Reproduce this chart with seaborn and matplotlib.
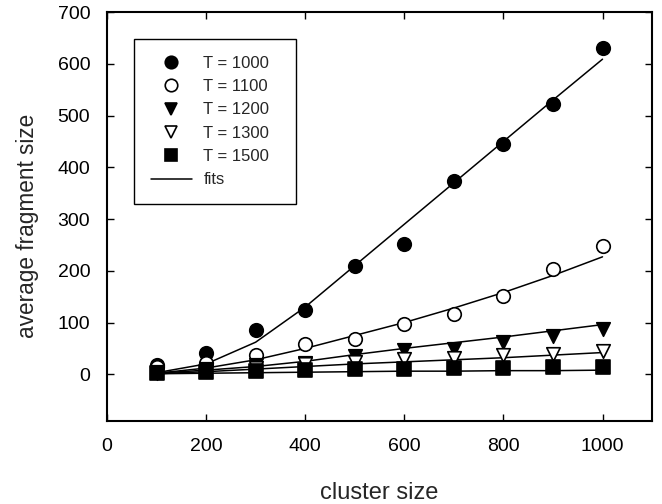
import matplotlib
matplotlib.use("Agg")
import matplotlib.pyplot as plt
from matplotlib.lines import Line2D
import seaborn as sns
import pandas as pd

cluster_size = [100, 200, 300, 400, 500, 600, 700, 800, 900, 1000]

t_labels = ["T = 1000", "T = 1100", "T = 1200", "T = 1300", "T = 1500"]

data_1000 = [18, 42, 86, 125, 210, 252, 374, 445, 523, 630]
data_1100 = [14, 21, 38, 59, 69, 98, 116, 151, 203, 248]
data_1200 = [4, 10, 17, 22, 35, 47, 48, 63, 74, 88]
data_1300 = [3, 6, 12, 19, 24, 30, 32, 37, 40, 45]
data_1500 = [2, 5, 6, 9, 10, 11, 12, 13, 14, 15]

fit_1000 = [3, 20, 62, 130, 210, 290, 370, 450, 530, 609]
fit_1100 = [2, 12, 28, 50, 75, 100, 128, 158, 191, 227]
fit_1200 = [2, 8, 15, 25, 38, 50, 61, 72, 84, 96]
fit_1300 = [1, 5, 10, 15, 20, 24, 28, 32, 37, 42]
fit_1500 = [1, 2, 3, 4, 5, 6, 6, 7, 7, 8]

x_ticks = [0, 200, 400, 600, 800, 1000]
y_ticks = [0, 100, 200, 300, 400, 500, 600, 700]

series = [data_1000, data_1100, data_1200, data_1300, data_1500]
fits = [fit_1000, fit_1100, fit_1200, fit_1300, fit_1500]
markers = ["o", "o", "v", "v", "s"]
filled = [True, False, True, False, True]

sns.set_theme(style="ticks")
plt.rcParams["font.family"] = ["Liberation Sans", "DejaVu Sans"]

fig = plt.figure(figsize=(6.62, 5.04), dpi=100)
ax = fig.add_axes([0.1616, 0.165, 0.8234, 0.811])

for vals, fv in zip(series, fits):
    df = pd.DataFrame({"x": cluster_size, "y": fv})
    sns.lineplot(data=df, x="x", y="y", color="black", linewidth=1.1, ax=ax,
                 legend=False, zorder=2)

for vals, m, f in zip(series, markers, filled):
    df = pd.DataFrame({"x": cluster_size, "y": vals})
    sns.scatterplot(data=df, x="x", y="y", marker=m, s=95,
                    color="black" if f else "white", edgecolor="black",
                    linewidth=1.2, ax=ax, legend=False, zorder=3)

ax.set_xlim(0, 1100)
ax.set_ylim(-90, 700)
ax.set_xticks(x_ticks)
ax.set_yticks(y_ticks)
ax.tick_params(axis="both", direction="in", length=5, width=1.0,
               labelsize=14, colors="black", top=True, right=True)
ax.tick_params(axis="x", pad=12)
ax.tick_params(axis="y", pad=12)
for sp in ax.spines.values():
    sp.set_linewidth(1.5)
    sp.set_color("black")
    sp.set_visible(True)

ax.set_xlabel("cluster size", fontsize=17, labelpad=20)
ax.set_ylabel("average fragment size", fontsize=16.3)
ax.yaxis.set_label_coords(-0.124, 0.478)

handles = []
for lab, m, f in zip(t_labels, markers, filled):
    handles.append(Line2D([], [], linestyle="none", marker=m, markersize=9,
                          markerfacecolor="black" if f else "white",
                          markeredgecolor="black", markeredgewidth=1.2,
                          label=lab))
handles.append(Line2D([], [], color="black", linewidth=1.1, label="fits"))

leg = ax.legend(handles=handles, loc="upper left",
                bbox_to_anchor=(0.0495, 0.5, 0.297, 0.434), mode="expand",
                borderaxespad=0,
                fontsize=12, frameon=True, fancybox=False,
                edgecolor="black", handlelength=2.5, handletextpad=0.66,
                labelspacing=0.5, borderpad=1.0)
leg.get_frame().set_linewidth(1.0)
leg.get_frame().set_alpha(1)

fig.savefig("out.png", dpi=100)
